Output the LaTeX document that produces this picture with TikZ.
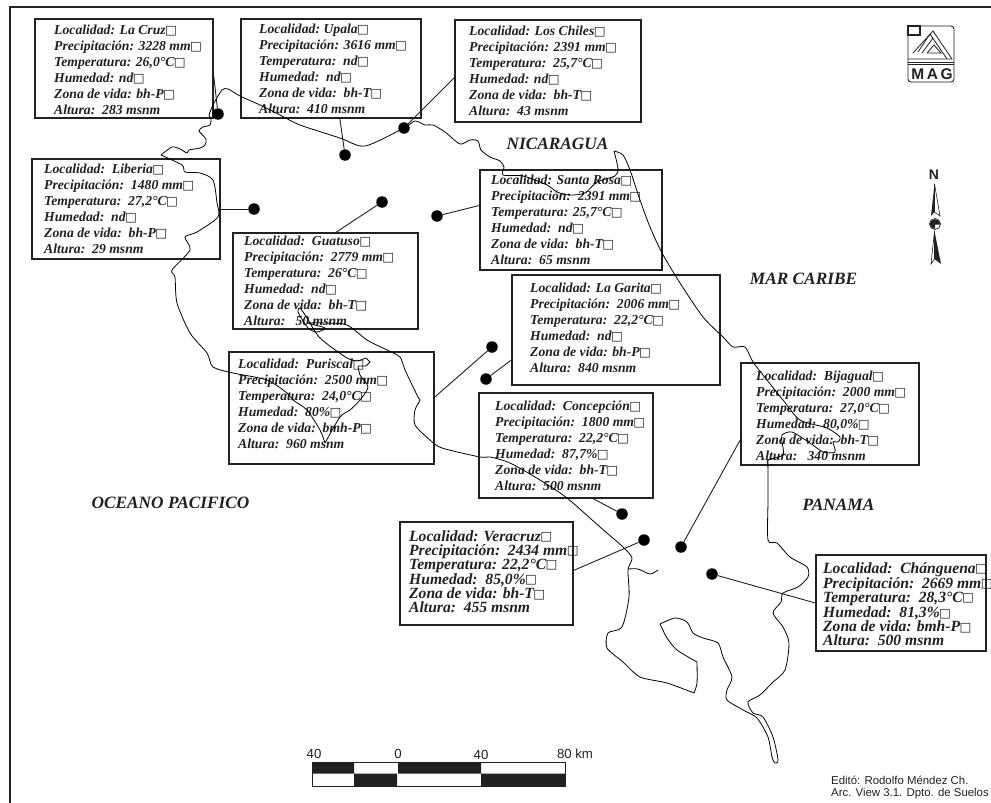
\documentclass[tikz,border=0pt]{standalone}
\usepackage{fontspec}
\setmainfont{Liberation Serif}
\setsansfont{Liberation Sans}
\newfontfamily\sqfont{DejaVu Sans}
\newcommand{\sq}{{\sqfont\fontsize{12.5}{10}\selectfont\upshape\mdseries\kern-0.6pt\raisebox{0.4pt}{□}}}
\newcommand{\sqb}{{\sqfont\fontsize{12.5}{10}\selectfont\upshape\mdseries\kern-0.6pt\raisebox{0.4pt}{□}}}
\definecolor{ink}{gray}{0.13}
\tikzset{
  x=1pt,y=-1pt,
  infobox/.style={draw=ink,line width=1.2pt,rectangle,inner sep=0pt},
  infotext/.style={anchor=north west,inner sep=0pt,align=left,text=ink,font=\fontsize{13.7}{16}\selectfont\bfseries\itshape},
  infotextb/.style={anchor=north west,inner sep=0pt,align=left,text=ink,font=\fontsize{15.6}{14.1}\selectfont\bfseries\itshape},
  geo/.style={inner sep=0pt,text=ink,font=\fontsize{17.3}{18}\selectfont\bfseries\itshape},
  site/.style={circle,fill=black,inner sep=0pt,minimum width=11.5pt,minimum height=11.5pt},
  link/.style={draw=ink,line width=0.9pt},
  coast/.style={draw=black,line width=0.8pt,smooth,tension=0.45},
  scalelab/.style={inner sep=0pt,text=ink,font=\fontsize{13.2}{14}\selectfont\sffamily},
  credit/.style={anchor=west,inner sep=0pt,text=ink,font=\fontsize{11.4}{12}\selectfont\sffamily},
}
% name, x0,y0,x1,y1, style, tx,ty, text
\newcommand{\info}[9]{%
  \node[infobox,minimum width=#4pt-#2pt,minimum height=#5pt-#3pt] (#1) at ({(#2+#4)/2},{(#3+#5)/2}) {};
  \node[#6] (#1-t) at (#7,#8-1) {#9};
}
\begin{document}
\begin{tikzpicture}
\useasboundingbox (0,0) rectangle (991,803);
\fill[white] (0,0) rectangle (991,803);
% frame
\coordinate (fa) at (10,803);
\coordinate (fb) at (10,7);
\coordinate (fc) at (991,7);
\draw[ink,line width=2.6pt] (fa) -- (fb) -- (fc);

% boxes
\info{lacruz}{35}{19}{213}{118}{infotext}{54}{26}{Localidad: La Cruz\sq\\Precipitación: 3228 mm\sq\\Temperatura: 26,0°C\sq\\Humedad: nd\sq\\Zona de vida: bh-P\sq\\Altura:\ \ 283 msnm}
\info{upala}{241}{19}{421}{118}{infotext}{259}{25}{Localidad:\ Upala\sq\\Precipitación: 3616 mm\sq\\Temperatura:\ \ nd\sq\\Humedad:\ \ nd\sq\\Zona de vida:\ \ bh-T\sq\\Altura:\ \ 410 msnm}
\info{chiles}{455}{20}{641}{122}{infotext}{469}{27}{Localidad: Los Chiles\sq\\Precipitación: 2391 mm\sq\\Temperatura:\ \ 25,7°C\sq\\Humedad: nd\sq\\Zona de vida:\ \ bh-T\sq\\Altura:\ \ 43 msnm}
\info{liberia}{32}{159}{220}{259}{infotext}{44}{165}{Localidad:\ \ Liberia\sq\\Precipitación:\ \ 1480 mm\sq\\Temperatura:\ \ 27,2°C\sq\\Humedad:\ \ nd\sq\\Zona de vida:\ \ bh-P\sq\\Altura:\ \ 29 msnm}
\info{guatuso}{233}{233}{418}{329}{infotext}{244}{237}{Localidad:\ \ Guatuso\sq\\Precipitación:\ \ 2779 mm\sq\\Temperatura:\ \ 26°C\sq\\Humedad:\ \ nd\sq\\Zona de vida:\ \ bh-T\sq\\Altura:\ \ \ 50 msnm}
\info{rosa}{480}{170}{662}{270}{infotext}{491}{176}{Localidad: Santa Rosa\sq\\Precipitación:\ \ 2391 mm\sq\\Temperatura: 25,7°C\sq\\Humedad:\ \ nd\sq\\Zona de vida:\ \ bh-T\sq\\Altura:\ \ 65 msnm}
\info{garita}{512}{275}{720}{385}{infotext}{530}{284}{Localidad: La Garita\sq\\Precipitación:\ \ 2006 mm\sq\\Temperatura:\ \ 22,2°C\sq\\Humedad:\ \ nd\sq\\Zona de vida: bh-P\sq\\Altura:\ \ 840 msnm}
\info{puriscal}{229}{352}{434}{464}{infotext}{238}{360}{Localidad:\ \ Puriscal\sq\\Precipitación:\ \ 2500 mm\sq\\Temperatura:\ \ 24,0°C\sq\\Humedad:\ \ 80\%\sq\\Zona de vida:\ \ bmh-P\sq\\Altura:\ \ 960 msnm}
\info{concepcion}{479}{393}{653}{498}{infotext}{495}{402}{Localidad:\ \ Concepción\sq\\Precipitación:\ \ 1800 mm\sq\\Temperatura:\ \ 22,2°C\sq\\Humedad:\ \ 87,7\%\sq\\Zona de vida:\ \ bh-T\sq\\Altura:\ \ 500 msnm}
\info{bijagual}{741}{363}{919}{465}{infotext}{756}{372}{Localidad:\ \ Bijagual\sq\\Precipitación:\ \ 2000 mm\sq\\Temperatura:\ \ 27,0°C\sq\\Humedad:\ \ 80,0\%\sq\\Zona de vida:\ \ bh-T\sq\\Altura:\ \ \ 340 msnm}
\info{veracruz}{400}{522}{573}{625}{infotextb}{409}{531}{Localidad: Veracruz\sqb\\Precipitación:\ \ 2434 mm\sqb\\Temperatura: 22,2°C\sqb\\Humedad:\ \ 85,0\%\sqb\\Zona de vida: bh-T\sqb\\Altura:\ \ 455 msnm}
\info{changuena}{816}{555}{986}{651}{infotextb}{823}{563}{Localidad:\ \ Chánguena\sqb\\Precipitación:\ \ 2669 mm\sqb\\Temperatura:\ \ 28,3°C\sqb\\Humedad:\ \ 81,3\%\sqb\\Zona de vida: bmh-P\sqb\\Altura:\ \ 500 msnm}

% coast
\draw[coast] plot coordinates {(161,155)(172,147)(180,149)(187,153)(189,150)(200,148)(205,145)(206,139)(199,131)(203,127)(210,125)(211,118)(209,115)(214,103)(222,90)(228,89)(240,96)(260,105)(280,115)(300,125)(340,138)(365,146)(404,128)(415,121)(425,125)(433,125)(445,132)(460,144)(470,140)(478,141)(481,150)(490,157)(500,161)(504,167)(503,175)(523,176)(547,185)(557,192)(570,195)(585,193)(597,182)(615,176)(618,170)(617,163)(614,151)};
\draw[coast] plot coordinates {(614,151)(623,155)(630,170)(640,200)(650,227)(662,253)(680,283)(703,317)(723,337)(733,347)(745,347)(753,362)(767,380)(783,400)(800,420)(827,428)(840,437)(838,442)(833,442)(835,452)(823,452)(810,443)(792,432)(782,435)(782,442)(783,455)(768,460)(768,467)};
\draw[coast] plot coordinates {(768,460)(768,500)(768,540)(777,543)(790,557)(807,567)(808,577)(798,587)(783,593)(781,602)(773,613)(783,627)(789,643)(785,670)(772,683)(760,695)(748,702)(753,713)(763,717)(773,737)(778,760)(775,763)(772,757)(768,737)(757,718)(743,710)(727,700)(727,690)(732,677)(723,657)(718,643)(703,638)(693,633)(687,622)(675,618)(660,624)};
\draw[coast] plot coordinates {(660,624)(667,638)(677,650)(697,662)};
\draw[coast] plot coordinates {(697,662)(697,683)(694,693)};
\draw[coast] plot coordinates {(694,693)(667,683)(640,677)(623,662)(607,648)(608,633)(622,627)(629,597)(628,570)(632,558)(623,547)(600,527)(567,498)(540,480)(510,463)(490,457)(480,457)(442,448)(430,440)(415,425)(415,410)(420,400)(418,397)(405,370)(400,357)(387,350)(367,340)(347,325)(325,323)(308,323)(325,328)(317,332)(308,328)(298,312)(300,308)(307,318)(320,338)(347,358)(358,361)};
\draw[coast] (358,361) -- (366,358) -- (370,362) -- (366,366) -- (358,366);
\draw[coast] plot coordinates {(358,366)(360,375)(368,387)(360,400)(350,410)(340,417)(325,443)};
\draw[coast] plot coordinates {(325,443)(320,430)(307,410)(293,400)(287,393)(267,380)(233,373)(213,367)(207,353)(190,333)(177,303)(175,277)(172,270)(190,250)(185,237)(197,232)(218,217)(217,203)(213,180)(200,173)(185,172)(182,165)(161,155)};
\draw[coast] plot coordinates {(628,569)(638,569)(650,574)(658,570)};

% sites
\node[site] (s1) at (218,114) {};
\node[site] (s2) at (345,155) {};
\node[site] (s3) at (404,128) {};
\node[site] (s4) at (254,209) {};
\node[site] (s5) at (382,202) {};
\node[site] (s6) at (437,216) {};
\node[site] (s7) at (486,379) {};
\node[site] (s8) at (492,347) {};
\node[site] (s9) at (622,514) {};
\node[site] (s10) at (644,540) {};
\node[site] (s11) at (681,547) {};
\node[site] (s12) at (712,574) {};
\draw[link] (lacruz.-4.8) -- (s1);
\draw[link] (upala.-80.8) -- (s2);
\draw[link] (chiles.184.3) -- (s3);
\draw[link] (liberia.0) -- (s4);
\draw[link] (guatuso.78.8) -- (s5);
\draw[link] (rosa.171.3) -- (s6);
\draw[link] (garita.196.1) -- (s7);
\draw[link] (puriscal.6.1) -- (s8);
\draw[link] (concepcion.-63.7) -- (s9);
\draw[link] (veracruz.2.3) -- (s10);
\draw[link] (bijagual.196.3) -- (s11);
\draw[link] (changuena.180.7) -- (s12);

% geographic labels
\node[geo] (nic) at (557.5,144) {NICARAGUA};
\node[geo] (mar) at (803.5,279) {MAR CARIBE};
\node[geo] (oce) at (170.5,503) {OCEANO PACIFICO};
\node[geo] (pan) at (838.5,505) {PANAMA};

% logo
\draw[ink,line width=0.9pt,rounded corners=3pt] (908,26) rectangle (954,82);
\draw[ink,line width=1.3pt,fill=white] (908,26) rectangle (920,35);
\draw[ink,line width=0.7pt] (908,62) -- (954,62) (908,64) -- (954,64);
\draw[ink,line width=0.8pt] (908,59) -- (952,59) -- (933,31) -- (913,53);
\draw[ink,line width=0.8pt] (918,52) -- (930,34) -- (947,59);
\draw[ink,line width=0.8pt] (922,53) -- (933,38);
\draw[ink,line width=0.8pt] (927,53) -- (934,45) -- (941,53) -- (927,53);
\node[inner sep=0pt,text=ink,font=\fontsize{15.5}{16}\selectfont\sffamily\bfseries] (mag) at (932,74) {M\,A\,G};

% north arrow
\node[inner sep=0pt,text=ink,font=\fontsize{14}{14}\selectfont\sffamily\bfseries] (north) at (934,175) {N};
\draw[ink,line width=0.6pt,fill=white] (934.5,184) -- (940,216) -- (934.5,212) -- cycle;
\fill[ink] (934.5,184) -- (931,216) -- (934.5,212) -- cycle;
\draw[ink,line width=0.7pt,fill=white] (935,224) circle (5.5);
\fill[ink] (929.5,224.7) arc (180:360:5.5) -- cycle;
\fill[ink] (929.5,223.3) arc (180:90:5.5) -- (935,223.3) -- cycle;
\draw[ink,line width=0.6pt,fill=white] (934.5,231) -- (931,264) -- (934.5,259) -- cycle;
\fill[ink] (934.5,231) -- (941,264) -- (934.5,259) -- cycle;

% scale
\fill[ink] (312,762) rectangle (354,773.5) (398,762) rectangle (481,773.5)
           (354,773.5) rectangle (397,786) (481,773.5) rectangle (565,786);
\draw[ink,line width=0.8pt] (312,762) rectangle (565,786);
\node[scalelab] (k1) at (314,754) {40};
\node[scalelab] (k2) at (398,754) {0};
\node[scalelab] (k3) at (481,755) {40};
\node[scalelab] (k4) at (575,754) {80 km};

% credits
\node[credit] (ed) at (831,780) {Editó: Rodolfo Méndez Ch.};
\node[credit] (av) at (831,794) {Arc. View 3.1. Dpto. de Suelos};
\end{tikzpicture}
\end{document}
